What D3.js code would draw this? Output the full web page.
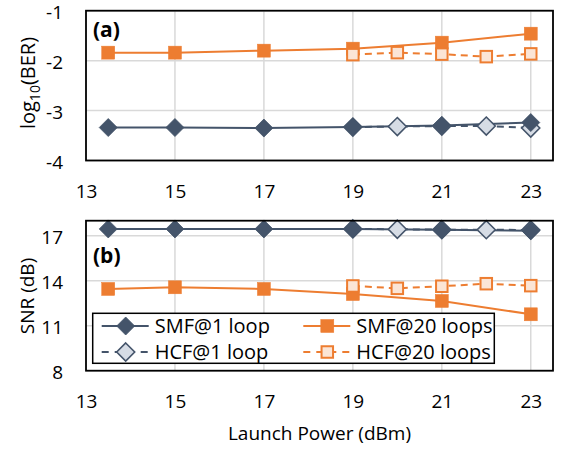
<!DOCTYPE html>
<html><head><meta charset="utf-8">
<script src="https://cdn.jsdelivr.net/npm/d3@7"></script>
<style>body{margin:0;background:#fff}svg{display:block;font-family:"Open Sans",sans-serif}</style>
</head><body><svg id="c" width="563" height="449"></svg>
<script>
const xTicks = [13, 15, 17, 19, 21, 23];
const smfX = [13.5, 15, 17, 19, 21, 23];
const hcfX = [19, 20, 21, 22, 23];
// (a) log10(BER)
const berTicks = [-1, -2, -3, -4];
const berSMF1 = [-3.34, -3.34, -3.35, -3.33, -3.30, -3.24];
const berHCF1 = [-3.33, -3.32, -3.31, -3.31, -3.35];
const berSMF20 = [-1.84, -1.84, -1.80, -1.76, -1.64, -1.46];
const berHCF20 = [-1.88, -1.84, -1.87, -1.92, -1.865];
// (b) SNR (dB)
const snrTicks = [17, 14, 11, 8];
const snrSMF1 = [17.45, 17.45, 17.45, 17.45, 17.40, 17.33];
const snrHCF1 = [17.45, 17.43, 17.40, 17.40, 17.38];
const snrSMF20 = [13.45, 13.56, 13.45, 13.11, 12.65, 11.76];
const snrHCF20 = [13.65, 13.49, 13.63, 13.80, 13.67];
const legendLabels = ["SMF@1 loop", "SMF@20 loops", "HCF@1 loop", "HCF@20 loops"];

const DARK = "#44546a", ORANGE = "#ed7d31", DFILL = "#d6dce5", OFILL = "#fbe5d6";
const svg = d3.select("#c");
const x = d3.scaleLinear().domain([13, 23.5]).range([86, 553]);

const series = [
  {xs: hcfX, key: "HCF1", color: DARK, fill: DFILL, dash: "7,5", shape: "diamond"},
  {xs: smfX, key: "SMF1", color: DARK, fill: DARK, dash: null, shape: "diamond"},
  {xs: smfX, key: "SMF20", color: ORANGE, fill: ORANGE, dash: null, shape: "square"},
  {xs: hcfX, key: "HCF20", color: ORANGE, fill: OFILL, dash: "7,5", shape: "square"}
];

function marker(g, shape, cx, cy, color, fill, hollow) {
  if (shape === "diamond") {
    const r = 9;
    g.append("path").attr("d", `M${cx},${cy - r}L${cx + r},${cy}L${cx},${cy + r}L${cx - r},${cy}Z`)
      .attr("fill", fill).attr("stroke", color).attr("stroke-width", hollow ? 1.6 : 0.8);
  } else {
    const s = hollow ? 11.5 : 13;
    g.append("rect").attr("x", cx - s / 2).attr("y", cy - s / 2).attr("width", s).attr("height", s)
      .attr("fill", fill).attr("stroke", color).attr("stroke-width", hollow ? 2 : 0.5);
  }
}

function panel(yDomain, yRange, ticks, data, label, labelY, xLabelY) {
  const y = d3.scaleLinear().domain(yDomain).range(yRange);
  const g = svg.append("g");
  // grid
  g.append("g").selectAll("line").data(xTicks.slice(1)).join("line")
    .attr("x1", d => x(d)).attr("x2", d => x(d)).attr("y1", yRange[0]).attr("y2", yRange[1])
    .attr("stroke", "#d9d9d9").attr("stroke-width", 1.5);
  g.append("g").selectAll("line").data(ticks).join("line")
    .attr("x1", x(13)).attr("x2", x(23.5)).attr("y1", d => y(d)).attr("y2", d => y(d))
    .attr("stroke", "#d9d9d9").attr("stroke-width", 1.5);
  // axes (labels only)
  const yAx = d3.axisLeft(y).tickValues(ticks).tickSize(0).tickPadding(0).tickFormat(d => d < 0 ? "-" + Math.abs(d) : d);
  const ya = g.append("g").attr("transform", `translate(63,0)`).call(yAx);
  ya.select(".domain").remove();
  ya.selectAll("text").attr("font-size", 19).attr("fill", "#000").attr("font-family", "Open Sans").attr("dy", "0.42em");
  const xAx = d3.axisBottom(x).tickValues(xTicks).tickSize(0).tickPadding(0);
  const xa = g.append("g").attr("transform", `translate(0,${xLabelY})`).call(xAx);
  xa.select(".domain").remove();
  xa.selectAll("text").attr("font-size", 19).attr("fill", "#000").attr("font-family", "Open Sans").attr("dy", "0.35em");
  // series
  const line = d3.line().x(d => x(d[0])).y(d => y(d[1]));
  series.forEach((s, i) => {
    const pts = s.xs.map((xv, j) => [xv, data[s.key][j]]);
    g.append("path").attr("d", line(pts)).attr("fill", "none").attr("stroke", s.color)
      .attr("stroke-width", 2).attr("stroke-dasharray", s.dash);
  });
  series.forEach(s => {
    const pts = s.xs.map((xv, j) => [xv, data[s.key][j]]);
    const mg = g.append("g");
    pts.forEach(p => marker(mg, s.shape, x(p[0]), y(p[1]), s.color, s.fill, !!s.dash));
  });
  // frame
  g.append("rect").attr("x", x(13)).attr("y", yRange[1]).attr("width", x(23.5) - x(13)).attr("height", yRange[0] - yRange[1])
    .attr("fill", "none").attr("stroke", "#000").attr("stroke-width", 1.8);
  g.append("text").attr("x", 93).attr("y", labelY).attr("font-size", 21).attr("font-weight", "bold").text(label);
  return y;
}

panel([-4, -1], [160.5, 10.7], berTicks,
  {SMF1: berSMF1, HCF1: berHCF1, SMF20: berSMF20, HCF20: berHCF20}, "(a)", 36.5, 191);
panel([8, 18], [370.7, 220.7], snrTicks,
  {SMF1: snrSMF1, HCF1: snrHCF1, SMF20: snrSMF20, HCF20: snrHCF20}, "(b)", 262.5, 401);

// y titles
const t1 = svg.append("text").attr("transform", "translate(35,83) rotate(-90)").attr("text-anchor", "middle")
  .attr("font-size", 20);
t1.append("tspan").text("log");
t1.append("tspan").attr("font-size", 14).attr("dy", 5).text("10");
t1.append("tspan").attr("dy", -5).text("(BER)");
svg.append("text").attr("transform", "translate(34,296) rotate(-90)").attr("text-anchor", "middle")
  .attr("font-size", 19).text("SNR (dB)");
svg.append("text").attr("x", 319.5).attr("y", 440).attr("text-anchor", "middle").attr("font-size", 19)
  .text("Launch Power (dBm)");

// legend
const lg = svg.append("g");
lg.append("rect").attr("x", 92.7).attr("y", 313.3).attr("width", 401.6).attr("height", 50)
  .attr("fill", "#fff").attr("stroke", "#000").attr("stroke-width", 1.5);
const legItems = [
  {s: series[1], x0: 101.7, y: 326, label: legendLabels[0]},
  {s: series[2], x0: 303.3, y: 326, label: legendLabels[1]},
  {s: series[0], x0: 101.7, y: 352, label: legendLabels[2]},
  {s: series[3], x0: 303.3, y: 352, label: legendLabels[3]}
];
legItems.forEach(it => {
  lg.append("line").attr("x1", it.x0).attr("x2", it.x0 + 47).attr("y1", it.y).attr("y2", it.y)
    .attr("stroke", it.s.color).attr("stroke-width", 2).attr("stroke-dasharray", it.s.dash ? "7,6" : null);
  marker(lg, it.s.shape, it.x0 + 24, it.y, it.s.color, it.s.fill, !!it.s.dash);
  lg.append("text").attr("x", it.x0 + 53).attr("y", it.y).attr("dy", "0.36em").attr("font-size", 20).text(it.label);
});
</script></body></html>
